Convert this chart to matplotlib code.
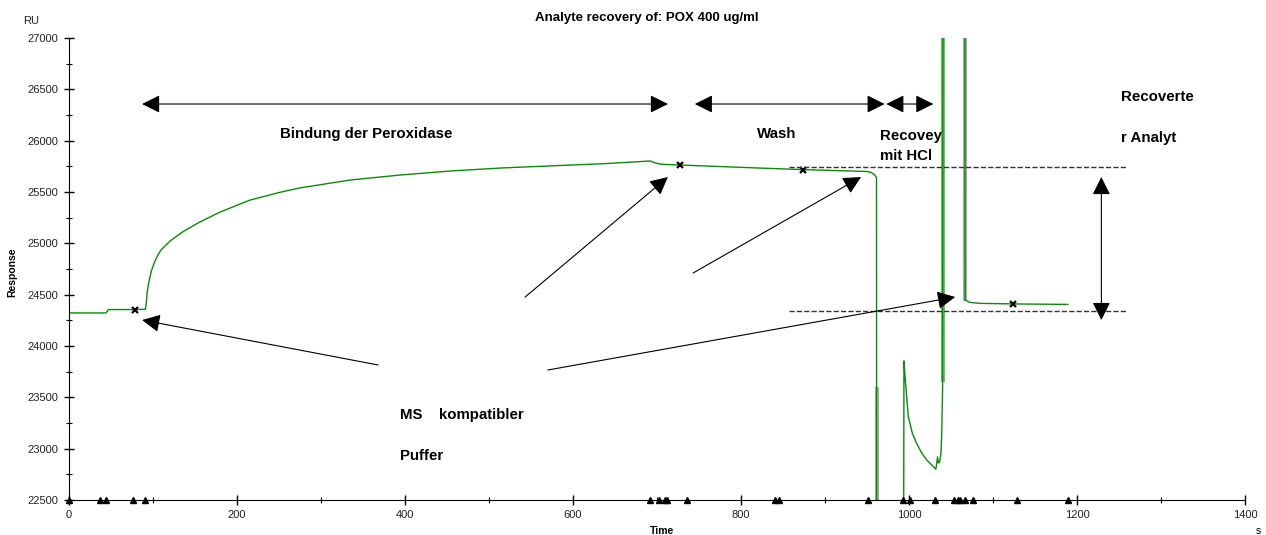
import numpy as np
import matplotlib.pyplot as plt
from matplotlib.ticker import MultipleLocator

plt.rcParams['font.family'] = ['Liberation Sans', 'DejaVu Sans']

# sensorgram (s, RU)
time_s = [0, 44, 47, 78, 91, 92, 93, 95, 98, 102, 106, 110, 120, 135, 155, 180, 215,
          250, 275, 335, 395, 455, 515, 575, 635, 692, 697, 705, 727, 800, 874,
          950, 955, 959, 961.3, 961.5, 993.6, 994, 995.2, 999.2, 1004, 1009, 1015,
          1021, 1032, 1034, 1035, 1036.5, 1038, 1039, 1040, 1040.5, 1066.5, 1066.8,
          1072, 1085, 1124, 1189]
response_ru = [24322, 24322, 24355, 24355, 24358, 24420, 24520, 24620, 24730, 24820,
               24890, 24940, 25020, 25110, 25205, 25305, 25420, 25495, 25540, 25617,
               25666, 25705, 25734, 25755, 25775, 25802, 25785, 25770, 25763, 25740,
               25718, 25700, 25690, 25668, 25640, 22000, 22000, 23855, 23710, 23313,
               23150, 23053, 22960, 22890, 22800, 22920, 22860, 22870, 22950, 23150,
               23600, 28000, 28000, 24450, 24425, 24415, 24410, 24405]

# report points (x)
cross_t = [78, 727, 874, 1124]
cross_ru = [24355, 25763, 25717, 24410]

# injection / event markers on the time axis
inject_t = [0, 37, 44, 76, 91, 692, 702, 709, 712, 736, 841, 845, 951, 993, 1001,
            1031, 1053, 1058, 1061, 1067, 1076, 1128, 1189]

# light reference traces seen behind the vertical jumps
shadow_t = [961.5, 1040.3, 1066.9]
shadow_lo = [22500, 23650, 24440]
shadow_hi = [23600, 27000, 27000]
shadow_col = ['#9cb39c', '#6cc06c', '#a9a9a9']

baseline_ru = 24345
bound_ru = 25747

fig = plt.figure(figsize=(12.66, 5.35), dpi=100)
ax = fig.add_axes([69 / 1266, 35 / 535, 1176 / 1266, 462 / 535])

for t, lo, hi, c in zip(shadow_t, shadow_lo, shadow_hi, shadow_col):
    ax.vlines(t, lo, hi, colors=c, linewidth=3)
ax.plot(time_s, response_ru, color='#0a8a0a', linewidth=1.0)
ax.plot(cross_t, cross_ru, 'x', color='black', markersize=5, markeredgewidth=1.6)
ax.plot(inject_t, [22500] * len(inject_t), '^', color='black', markersize=5,
        clip_on=False, zorder=5)

ax.set_xlim(0, 1400)
ax.set_ylim(22500, 27000)
ax.xaxis.set_major_locator(MultipleLocator(200))
ax.xaxis.set_minor_locator(MultipleLocator(100))
ax.yaxis.set_major_locator(MultipleLocator(500))
ax.yaxis.set_minor_locator(MultipleLocator(250))
ax.tick_params(which='major', direction='inout', length=7, width=1,
               labelsize=8, labelcolor='#222222', pad=4)
ax.tick_params(which='minor', direction='inout', length=4, width=0.8)
ax.spines['top'].set_visible(False)
ax.spines['right'].set_visible(False)

# dashed levels and recovered amount
ax.plot([857, 1260], [bound_ru, bound_ru], '--', color='#333333', linewidth=1, clip_on=False)
ax.plot([857, 1260], [baseline_ru, baseline_ru], '--', color='#333333', linewidth=1, clip_on=False)


def arrow(x0, y0, x1, y1, style='-|>'):
    ax.annotate('', xy=(x1, y1), xytext=(x0, y0), annotation_clip=False,
                arrowprops=dict(arrowstyle=style + ',head_length=1.1,head_width=0.55',
                                mutation_scale=10, color='black', lw=0.8,
                                shrinkA=0, shrinkB=0))


arrow(87, 26357, 713, 26357, '<|-|>')
arrow(745, 26357, 971, 26357, '<|-|>')
arrow(973, 26357, 1029, 26357, '<|-|>')
arrow(1229, 24253, 1229, 25646, '<|-|>')
arrow(543, 24477, 713, 25646)
arrow(743, 24711, 943, 25646)
arrow(368, 23815, 87, 24253)
arrow(570, 23766, 1055, 24477)

lbl = dict(fontsize=10.8, fontweight='bold', va='center', ha='left')
ax.text(251, 26065, 'Bindung der Peroxidase', **lbl)
ax.text(819, 26065, 'Wash', **lbl)
ax.text(965, 26045, 'Recovey', **lbl)
ax.text(965, 25850, 'mit HCl', **lbl)
ax.text(1252, 26425, 'Recoverte', **lbl)
ax.text(1252, 26026, 'r Analyt', **lbl)
ax.text(394, 23330, 'MS    kompatibler', **lbl)
ax.text(394, 22930, 'Puffer', **lbl)

fig.text(647 / 1266, 1 - 18 / 535, 'Analyte recovery of: POX 400 ug/ml',
         fontsize=9.5, fontweight='bold', ha='center', va='center')
fig.text(23 / 1266, 1 - 21 / 535, 'RU', fontsize=8, ha='left', va='center', color='#222222')
fig.text(12 / 1266, 1 - 272 / 535, 'Response', fontsize=7.5, fontweight='bold',
         rotation=90, ha='center', va='center')
fig.text(662 / 1266, 1 - 531 / 535, 'Time', fontsize=7.5, fontweight='bold',
         ha='center', va='center')
fig.text(1258 / 1266, 1 - 531 / 535, 's', fontsize=7.5, ha='center', va='center')

fig.savefig('out.png', dpi=100)
